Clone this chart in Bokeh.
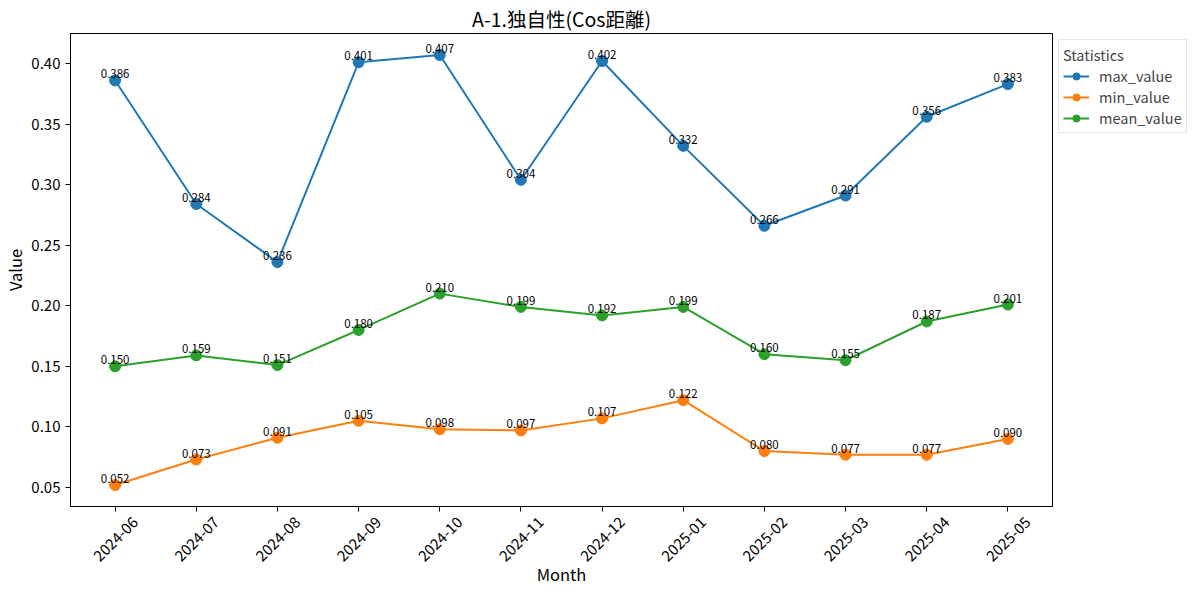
from bokeh.plotting import figure
from bokeh.models import (ColumnDataSource, Range1d, FixedTicker, Legend, LegendItem,
                          Title, LinearAxis)
from bokeh.core.properties import value
from bokeh.embed import file_html
from bokeh.resources import INLINE
import math

months = ["2024-06", "2024-07", "2024-08", "2024-09", "2024-10", "2024-11",
          "2024-12", "2025-01", "2025-02", "2025-03", "2025-04", "2025-05"]
max_value = [0.386, 0.284, 0.236, 0.401, 0.407, 0.304, 0.402, 0.332, 0.266, 0.291, 0.356, 0.383]
min_value = [0.052, 0.073, 0.091, 0.105, 0.098, 0.097, 0.107, 0.122, 0.080, 0.077, 0.077, 0.090]
mean_value = [0.150, 0.159, 0.151, 0.180, 0.210, 0.199, 0.192, 0.199, 0.160, 0.155, 0.187, 0.201]
y_ticks = [0.05, 0.10, 0.15, 0.20, 0.25, 0.30, 0.35, 0.40]

FONT = "Noto Sans CJK JP"
xs = list(range(len(months)))
allv = max_value + min_value + mean_value
lo, hi = min(allv), max(allv)
pad = (hi - lo) * 0.05
xpad = (len(months) - 1) * 0.05
FW = 982
px_per_unit = FW / (len(months) - 1 + 2 * xpad)
d = 20 / px_per_unit  # shift so rotated labels are centred on their ticks

p = figure(width=1184, height=579, output_backend="svg", toolbar_location=None,
           x_range=Range1d(-xpad, len(months) - 1 + xpad),
           y_range=Range1d(lo - pad, hi + pad),
           frame_width=FW, frame_height=473,
           min_border_left=62, min_border_right=132, min_border_top=25, min_border_bottom=70)
p.extra_x_ranges = {"lab": Range1d(-xpad - d, len(months) - 1 + xpad - d)}

p.title = Title(text="A-1.独自性(Cos距離)", align="center", text_font=FONT,
                text_font_size="19.5px", text_font_style="normal", text_color="black")
p.title.standoff = 2
p.title.offset = 0

p.xgrid.visible = False
p.ygrid.visible = False
p.outline_line_color = "black"
p.outline_line_width = 1
p.background_fill_color = "white"
p.border_fill_color = "white"

for ax in (p.xaxis[0], p.yaxis[0]):
    ax.axis_line_color = "black"
    ax.major_tick_line_color = "black"
    ax.major_tick_out = 5
    ax.major_tick_in = 0
    ax.minor_tick_line_color = None
    ax.major_label_text_font = FONT
    ax.major_label_text_font_size = "15px"
    ax.major_label_text_color = "black"
    ax.axis_label_text_font = FONT
    ax.axis_label_text_font_size = "16.5px"
    ax.axis_label_text_font_style = "normal"
    ax.axis_label_text_color = "black"

xa = p.xaxis[0]
xa.ticker = FixedTicker(ticks=xs)
xa.major_label_overrides = {i: "" for i in xs}
xa.major_label_standoff = 0

lab_axis = LinearAxis(x_range_name="lab", ticker=FixedTicker(ticks=xs))
lab_axis.major_label_overrides = {i: m for i, m in enumerate(months)}
lab_axis.major_label_orientation = math.pi / 4
lab_axis.major_label_text_font = FONT
lab_axis.major_label_text_font_size = "15px"
lab_axis.major_label_text_color = "black"
lab_axis.major_label_standoff = 8
lab_axis.axis_line_color = None
lab_axis.major_tick_line_color = None
lab_axis.minor_tick_line_color = None
lab_axis.major_tick_out = 0
lab_axis.major_tick_in = 0
lab_axis.axis_label = "Month"
lab_axis.axis_label_text_font = FONT
lab_axis.axis_label_text_font_size = "16.5px"
lab_axis.axis_label_text_font_style = "normal"
lab_axis.axis_label_text_color = "black"
lab_axis.axis_label_standoff = -7
p.add_layout(lab_axis, "below")

p.yaxis.ticker = FixedTicker(ticks=y_ticks)
p.yaxis.major_label_overrides = {t: f"{t:.2f}" for t in y_ticks}
p.yaxis.axis_label = "Value"
p.yaxis.axis_label_standoff = 1

series = [("max_value", max_value, "#1f77b4"),
          ("min_value", min_value, "#ff7f0e"),
          ("mean_value", mean_value, "#2ca02c")]

items = []
for name, vals, color in series:
    src = ColumnDataSource(dict(x=xs, y=vals, lbl=[f"{v:.3f}" for v in vals]))
    r1 = p.line("x", "y", source=src, line_color=color, line_width=2)
    r2 = p.scatter("x", "y", source=src, size=11, fill_color=color, line_color=color)
    p.text("x", "y", text="lbl", source=src, text_align="center", text_baseline="bottom",
           y_offset=-2, text_font=value(FONT), text_font_size="11.5px", text_color="black")
    items.append(LegendItem(label=name, renderers=[r1, r2]))

legend = Legend(items=items, title="Statistics", location="top_left")
legend.title_text_font = FONT
legend.title_text_font_size = "14.5px"
legend.title_text_font_style = "normal"
legend.title_standoff = -4
legend.label_text_font = FONT
legend.label_text_font_size = "14.5px"
legend.label_height = 18
legend.glyph_height = 18
legend.border_line_color = "#cccccc"
legend.border_line_width = 1
legend.background_fill_color = "white"
legend.glyph_width = 26
legend.spacing = 0
legend.padding = 4
legend.margin = 6
legend.label_standoff = 10
p.add_layout(legend, "right")

open("out.html", "w").write(file_html(p, INLINE))
